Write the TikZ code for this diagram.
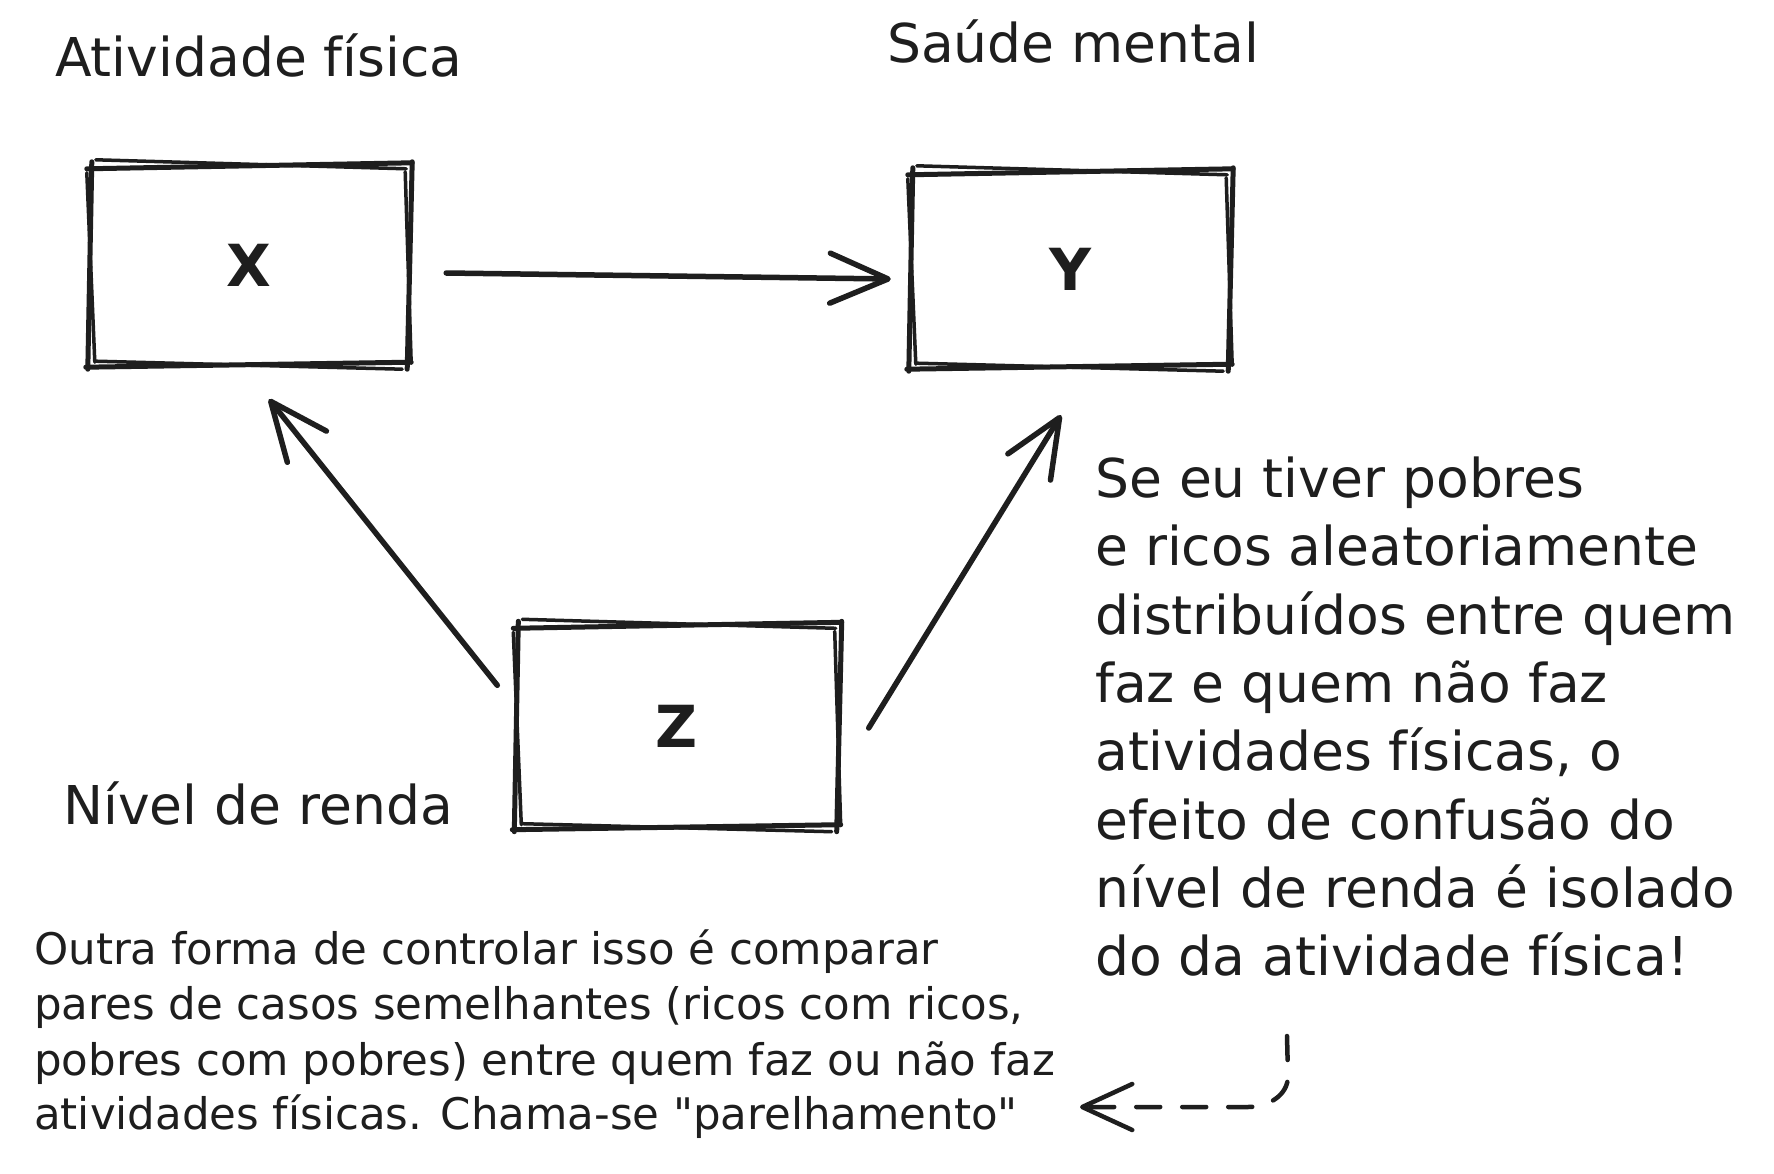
\documentclass[tikz,border=0pt]{standalone}
\usepackage{fontspec}
\setmainfont{DejaVu Sans}
\usetikzlibrary{arrows.meta}
\definecolor{ink}{HTML}{1E1E1E}
\tikzset{
  sk/.style={draw=ink, line width=5pt, line cap=round, line join=round},
  skthin/.style={draw=ink, line width=3.5pt, line cap=round},
  boxnode/.style={draw=none, inner sep=0pt, minimum width=#1, minimum height=200pt,
     text=ink, font=\fontsize{58}{64}\selectfont\bfseries},
  arr/.style={draw=ink, line width=5.5pt, line cap=round,
     -{Straight Barb[round,length=58pt,width=50pt,line width=5.5pt]}},
  darr/.style={draw=ink, line width=4.5pt, line cap=round, dash pattern=on 24pt off 22pt,
     -{Straight Barb[round,length=50pt,width=46pt,line width=4.5pt]}},
  lbl/.style={anchor=base west, inner sep=0pt, text=ink, font=\fontsize{53.5}{60}\selectfont},
  note/.style={anchor=base west, inner sep=0pt, text=ink, font=\fontsize{43.5}{50}\selectfont},
}
\newcommand{\roughbox}[1]{%
  \draw[sk] ([shift={(-3,4)}]#1.north west) -- ([shift={(4,-2)}]#1.north east);
  \draw[skthin] ([shift={(6,-5)}]#1.north west) -- ([shift={(-2,4)}]#1.north east);
  \draw[sk] ([shift={(4,-3)}]#1.north east) -- ([shift={(-1,4)}]#1.south east);
  \draw[skthin] ([shift={(-3,7)}]#1.north east) -- ([shift={(3,-2)}]#1.south east);
  \draw[sk] ([shift={(3,-3)}]#1.south east) -- ([shift={(-4,2)}]#1.south west);
  \draw[skthin] ([shift={(-6,4)}]#1.south east) -- ([shift={(6,-4)}]#1.south west);
  \draw[sk] ([shift={(-2,4)}]#1.south west) -- ([shift={(2,-3)}]#1.north west);
  \draw[skthin] ([shift={(5,-3)}]#1.south west) -- ([shift={(-3,8)}]#1.north west);
}
\begin{document}
\begin{tikzpicture}[x=1pt,y=-1pt]
\useasboundingbox[fill=white] (0,0) rectangle (1774,1174);

% boxes
\node[boxnode=318pt] (X) at (249,265) {X};
\node[boxnode=318pt, minimum height=196pt] (Y) at (1070,269) {Y};
\node[boxnode=321pt, minimum height=203pt] (Z) at (677,726) {Z};
\roughbox{X}
\roughbox{Y}
\roughbox{Z}

% labels
\node[lbl] (lx) at (55,77) {Atividade física};
\node[lbl] (ly) at (887,63) {Saúde mental};
\node[lbl] (lz) at (63,824) {Nível de renda};

% arrows
\draw[arr] ([shift={(38,8)}]X.east) -- ([shift={(-20,10)}]Y.west);
\draw[arr] ([shift={(-19,61)}]Z.north west) -- ([shift={(20,34)}]X.south);
\draw[arr] ([shift={(31,2)}]Z.east) -- ([shift={(-9,48)}]Y.south);

% right-hand note
\node[lbl] (r1) at (1095,497) {Se eu tiver pobres};
\node[lbl] (r2) at (1095,565) {e ricos aleatoriamente};
\node[lbl] (r3) at (1095,634) {distribuídos entre quem};
\node[lbl] (r4) at (1095,702) {faz e quem não faz};
\node[lbl] (r5) at (1095,770) {atividades físicas, o};
\node[lbl] (r6) at (1095,839) {efeito de confusão do};
\node[lbl] (r7) at (1095,907) {nível de renda é isolado};
\node[lbl] (r8) at (1095,975) {do da atividade física!};

% bottom note
\node[note] (n1) at (34,964) {Outra forma de controlar isso é comparar};
\node[note] (n2) at (34,1019) {pares de casos semelhantes (ricos com ricos,};
\node[note] (n3) at (34,1075) {pobres com pobres) entre quem faz ou não faz};
\node[note] (n4) at (34,1129) {atividades físicas. Chama-se \textquotedbl parelhamento\textquotedbl};

% dashed arrow
\coordinate (d0) at (1287,1036);
\coordinate (d1) at (1080,1107);
\draw[darr] (d0) -- ++(1,40) to[out=270,in=0] ++(-40,31) -- (d1);
\end{tikzpicture}
\end{document}
